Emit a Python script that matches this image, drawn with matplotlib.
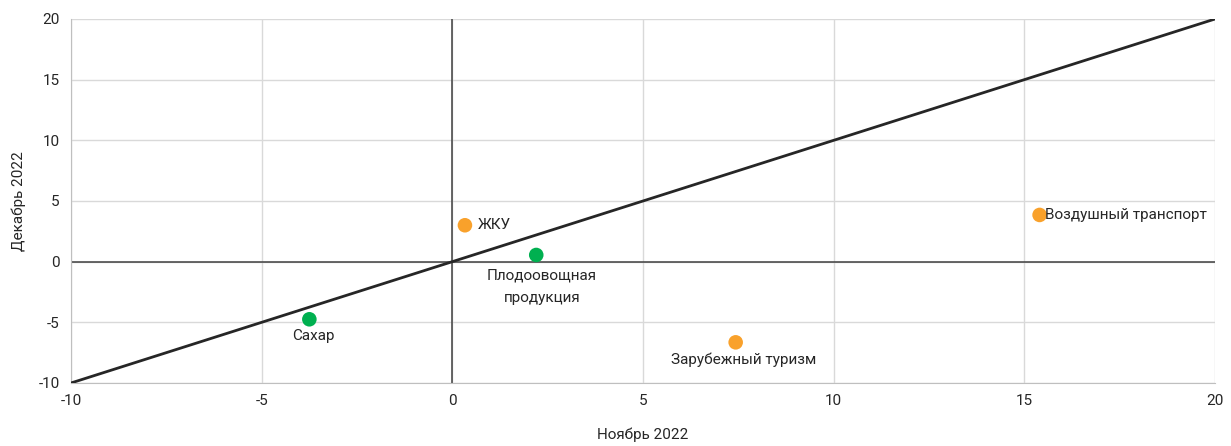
import matplotlib.pyplot as plt
import numpy as np

plt.rcParams['font.family'] = ['Roboto', 'DejaVu Sans']
plt.rcParams['axes.unicode_minus'] = False

# data
names = ['ЖКУ', 'Плодоовощная\nпродукция', 'Сахар', 'Зарубежный туризм', 'Воздушный транспорт']
nov = [0.33, 2.2, -3.75, 7.43, 15.4]
dec = [3.0, 0.55, -4.75, -6.65, 3.85]
colors = ['#F9A12B', '#00B050', '#00B050', '#F9A12B', '#F9A12B']
ticks = [-10, -5, 0, 5, 10, 15, 20]

# label placement (offset in points, alignment)
label_pos = [
    ((9, 0), 'left', 'center'),
    ((4, -10), 'center', 'top'),
    ((3, -7), 'center', 'top'),
    ((6, -7), 'center', 'top'),
    ((4, 0), 'left', 'center'),
]

fig = plt.figure(figsize=(12.31, 4.46), dpi=100)
ax = fig.add_axes([0.0577, 0.1413, 0.9293, 0.8161])

ax.set_xlim(-10, 20)
ax.set_ylim(-10, 20)
ax.set_xticks(ticks)
ax.set_yticks(ticks)
ax.grid(True, color='#D9D9D9', linewidth=1)
ax.set_axisbelow(True)
for s in ['top', 'right']:
    ax.spines[s].set_visible(False)
for s in ['left', 'bottom']:
    ax.spines[s].set_color('#BFBFBF')
ax.tick_params(length=0, labelsize=11, colors='#262626', pad=8)

# zero axes
ax.axhline(0, color='#404040', linewidth=1.1, zorder=2)
ax.axvline(0, color='#404040', linewidth=1.1, zorder=2)

# y = x line
ax.plot([-10, 20], [-10, 20], color='#262626', linewidth=2, zorder=3)

ax.scatter(nov, dec, s=110, c=colors, zorder=4, edgecolors='none')
for n, x, y, (off, ha, va) in zip(names, nov, dec, label_pos):
    ax.annotate(n, (x, y), xytext=off, textcoords='offset points',
                ha=ha, va=va, fontsize=11, color='#262626',
                linespacing=1.75, zorder=5)

ax.set_xlabel('Ноябрь 2022', fontsize=11, color='#262626', labelpad=14)
ax.set_ylabel('Декабрь 2022', fontsize=11, color='#262626', labelpad=9)

fig.savefig('out.png', dpi=100)
